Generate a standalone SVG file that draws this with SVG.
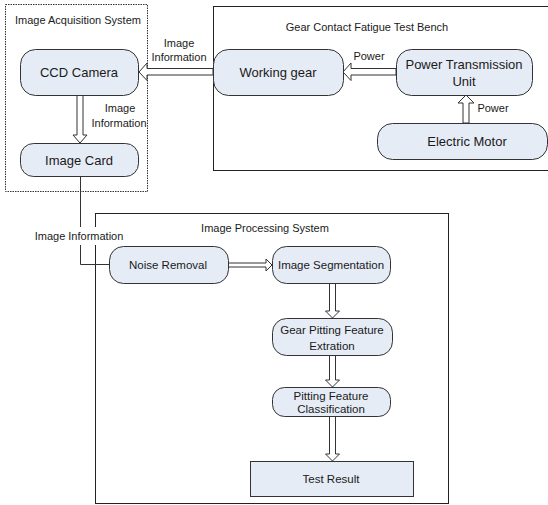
<svg xmlns="http://www.w3.org/2000/svg" width="548" height="505" viewBox="0 0 548 505">
<style>
.bg{fill:#ffffff}
.frame{fill:none;stroke:#222;stroke-width:1}
.dash{fill:none;stroke:#333;stroke-width:1;stroke-dasharray:1.5 1}
.node{fill:#e6ecf6;stroke:#333;stroke-width:1}
.arr{fill:#ffffff;stroke:#333;stroke-width:1;stroke-linejoin:miter}
.line{fill:none;stroke:#333;stroke-width:1}
text{font-family:"Liberation Sans",Arial,sans-serif;fill:#1a1a1a}
.big{font-size:13px;text-anchor:middle}
.mid{font-size:11.5px;text-anchor:middle}
.lab{font-size:11px}
.labc{font-size:11px;text-anchor:middle}
</style>
<rect class="bg" x="0" y="0" width="548" height="505"/>

<g id="image-acquisition-system">
  <rect class="dash" x="5.5" y="4.5" width="142" height="187"/>
  <text class="lab" x="15" y="24">Image Acquisition System</text>
</g>
<g id="test-bench">
  <rect class="frame" x="213.5" y="6.5" width="340" height="164"/>
  <text class="labc" x="367" y="31">Gear Contact Fatigue Test Bench</text>
</g>
<g id="image-processing-system">
  <rect class="frame" x="95.5" y="213.5" width="353" height="290"/>
  <text class="labc" x="265" y="232">Image Processing System</text>
</g>

<g id="connectors">
  <!-- Working gear -> CCD Camera -->
  <polygon class="arr" points="213,68.5 147,68.5 147,63 139,72 147,80.5 147,75 213,75"/>
  <text class="labc" x="179" y="47">Image</text>
  <text class="labc" x="179" y="61">Information</text>
  <!-- PTU -> Working gear -->
  <polygon class="arr" points="396,68.5 351,68.5 351,63 343,72 351,80.5 351,75 396,75"/>
  <text class="labc" x="369" y="60">Power</text>
  <!-- Electric Motor -> PTU -->
  <polygon class="arr" points="463,123 463,103 458,103 466,95 474,103 469,103 469,123"/>
  <text class="labc" x="493" y="112">Power</text>
  <!-- CCD -> Image Card -->
  <polygon class="arr" points="77,95 77,135 73,135 80,143 87,135 83,135 83,95"/>
  <text class="labc" x="120" y="112">Image</text>
  <text class="labc" x="119" y="127">Information</text>
  <!-- Image Card -> Noise Removal -->
  <polyline class="line" points="80.5,176 80.5,264.5 109,264.5"/>
  <rect x="30" y="227" width="99" height="18" fill="#ffffff"/>
  <text class="labc" x="79" y="240">Image Information</text>
  <!-- Noise -> Segmentation -->
  <polygon class="arr" points="228,263 266,263 266,259 272,265 266,271 266,267 228,267"/>
  <!-- Segmentation -> Gear Pitting -->
  <polygon class="arr" points="329.5,283 329.5,311 325.5,311 332.5,318 339.5,311 335.5,311 335.5,283"/>
  <!-- Gear Pitting -> Classification -->
  <polygon class="arr" points="329.5,355 329.5,380 325.5,380 332.5,387 339.5,380 335.5,380 335.5,355"/>
  <!-- Classification -> Test Result -->
  <polygon class="arr" points="329.5,416 329.5,454 325.5,454 332.5,461 339.5,454 335.5,454 335.5,416"/>
</g>

<g id="ccd-camera">
  <rect class="node" x="20.5" y="49.5" width="118" height="46" rx="15"/>
  <text class="big" x="79" y="77">CCD Camera</text>
</g>
<g id="image-card">
  <rect class="node" x="20.5" y="143.5" width="118" height="33" rx="13"/>
  <text class="big" x="79" y="165">Image Card</text>
</g>
<g id="working-gear">
  <rect class="node" x="213.5" y="49.5" width="130" height="46" rx="15"/>
  <text class="big" x="278" y="77">Working gear</text>
</g>
<g id="power-transmission-unit">
  <rect class="node" x="396.5" y="49.5" width="136" height="46" rx="15"/>
  <text class="big" x="464" y="69">Power Transmission</text>
  <text class="big" x="464" y="86">Unit</text>
</g>
<g id="electric-motor">
  <rect class="node" x="377.5" y="123.5" width="170" height="36" rx="15"/>
  <text class="big" x="467" y="146">Electric Motor</text>
</g>
<g id="noise-removal">
  <rect class="node" x="109.5" y="246.5" width="119" height="37" rx="14"/>
  <text class="mid" x="168" y="269">Noise Removal</text>
</g>
<g id="image-segmentation">
  <rect class="node" x="272.5" y="246.5" width="118" height="37" rx="14"/>
  <text class="mid" x="331" y="269">Image Segmentation</text>
</g>
<g id="gear-pitting-feature-extration">
  <rect class="node" x="272.5" y="318.5" width="120" height="37" rx="14"/>
  <text class="mid" x="332" y="334">Gear Pitting Feature</text>
  <text class="mid" x="332" y="350">Extration</text>
</g>
<g id="pitting-feature-classification">
  <rect class="node" x="272.5" y="387.5" width="118" height="29" rx="12"/>
  <text class="mid" x="331" y="400">Pitting Feature</text>
  <text class="mid" x="331" y="413">Classification</text>
</g>
<g id="test-result">
  <rect class="node" x="250.5" y="461.5" width="163" height="35"/>
  <text class="mid" x="331" y="483">Test Result</text>
</g>
</svg>
